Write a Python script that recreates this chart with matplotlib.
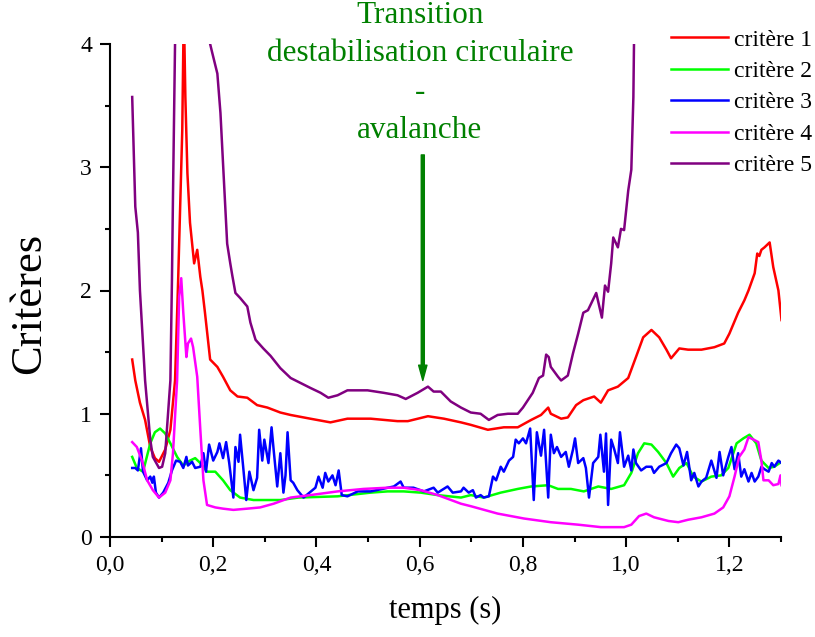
import numpy as np
import matplotlib
matplotlib.use("Agg")
import matplotlib.pyplot as plt
from matplotlib.ticker import MultipleLocator, FuncFormatter

plt.rcParams['font.family'] = ['Liberation Serif', 'DejaVu Serif']

# critère 1 (rouge)
t1 = [0.043, 0.049, 0.058, 0.068, 0.078, 0.087, 0.095, 0.107, 0.117, 0.126, 0.132, 0.140, 0.143,
      0.146, 0.150, 0.155, 0.163, 0.169, 0.175, 0.179, 0.184, 0.194, 0.208, 0.219, 0.233, 0.247,
      0.266, 0.285, 0.305, 0.330, 0.350, 0.388, 0.427, 0.460, 0.505, 0.557, 0.577, 0.616, 0.647,
      0.680, 0.699, 0.732, 0.763, 0.790, 0.816, 0.835, 0.849, 0.854, 0.874, 0.887, 0.903, 0.917,
      0.938, 0.951, 0.965, 0.984, 1.004, 1.019, 1.033, 1.049, 1.064, 1.078, 1.087, 1.103, 1.120,
      1.146, 1.171, 1.190, 1.200, 1.217, 1.229, 1.237, 1.249, 1.254, 1.258, 1.262, 1.268, 1.278,
      1.285, 1.295, 1.301]
c1 = [1.44, 1.27, 1.09, 0.95, 0.73, 0.64, 0.61, 0.71, 0.87, 1.27, 2.08, 3.30, 4.30,
      3.57, 2.95, 2.55, 2.22, 2.33, 2.11, 2.00, 1.82, 1.44, 1.38, 1.30, 1.19, 1.14,
      1.13, 1.07, 1.05, 1.01, 0.99, 0.96, 0.93, 0.96, 0.96, 0.94, 0.94, 0.98, 0.96,
      0.93, 0.91, 0.87, 0.89, 0.89, 0.95, 0.99, 1.05, 1.00, 0.96, 0.97, 1.07, 1.11,
      1.14, 1.09, 1.19, 1.22, 1.29, 1.46, 1.62, 1.68, 1.62, 1.52, 1.45, 1.53, 1.52,
      1.52, 1.54, 1.57, 1.65, 1.82, 1.92, 2.00, 2.14, 2.30, 2.28, 2.33, 2.35, 2.39,
      2.19, 2.00, 1.76]

# critère 2 (vert)
t2 = [0.043, 0.052, 0.064, 0.078, 0.087, 0.097, 0.107, 0.117, 0.130, 0.142, 0.155, 0.165, 0.175,
      0.188, 0.204, 0.219, 0.233, 0.252, 0.278, 0.305, 0.330, 0.365, 0.441, 0.505, 0.538, 0.569,
      0.602, 0.635, 0.680, 0.699, 0.724, 0.757, 0.790, 0.816, 0.849, 0.868, 0.893, 0.918, 0.946,
      0.971, 0.996, 1.010, 1.023, 1.035, 1.049, 1.062, 1.078, 1.091, 1.103, 1.117, 1.130, 1.146,
      1.165, 1.184, 1.198, 1.214, 1.227, 1.239, 1.252, 1.262, 1.276, 1.287, 1.301]
c2 = [0.65, 0.56, 0.53, 0.76, 0.85, 0.88, 0.84, 0.76, 0.65, 0.58, 0.62, 0.64, 0.60,
      0.53, 0.53, 0.46, 0.38, 0.32, 0.30, 0.30, 0.30, 0.32, 0.33, 0.36, 0.37, 0.37,
      0.36, 0.34, 0.32, 0.34, 0.32, 0.36, 0.39, 0.41, 0.42, 0.39, 0.39, 0.37, 0.41,
      0.39, 0.42, 0.52, 0.68, 0.76, 0.75, 0.69, 0.60, 0.49, 0.56, 0.60, 0.49, 0.45,
      0.49, 0.50, 0.56, 0.76, 0.80, 0.83, 0.76, 0.62, 0.56, 0.57, 0.61]

# critère 3 (bleu)
t3 = [0.043, 0.049, 0.054, 0.060, 0.064, 0.072, 0.078, 0.082, 0.085, 0.089, 0.095, 0.103, 0.113,
      0.120, 0.128, 0.136, 0.142, 0.148, 0.151, 0.159, 0.165, 0.175, 0.181, 0.186, 0.192, 0.200,
      0.208, 0.212, 0.219, 0.225, 0.231, 0.239, 0.243, 0.249, 0.252, 0.258, 0.264, 0.270, 0.278,
      0.285, 0.289, 0.295, 0.299, 0.307, 0.313, 0.317, 0.324, 0.330, 0.336, 0.340, 0.344, 0.350,
      0.355, 0.363, 0.375, 0.392, 0.398, 0.404, 0.412, 0.417, 0.423, 0.431, 0.437, 0.443, 0.449,
      0.460, 0.480, 0.505, 0.538, 0.550, 0.563, 0.569, 0.588, 0.608, 0.627, 0.635, 0.654, 0.664,
      0.680, 0.685, 0.695, 0.703, 0.709, 0.718, 0.724, 0.734, 0.742, 0.748, 0.757, 0.763, 0.773,
      0.781, 0.786, 0.792, 0.800, 0.806, 0.814, 0.821, 0.827, 0.835, 0.841, 0.849, 0.854, 0.860,
      0.866, 0.874, 0.883, 0.889, 0.897, 0.901, 0.907, 0.917, 0.922, 0.928, 0.936, 0.946, 0.950,
      0.957, 0.961, 0.965, 0.971, 0.977, 0.984, 0.988, 0.996, 1.004, 1.010, 1.014, 1.019, 1.029,
      1.039, 1.049, 1.054, 1.064, 1.078, 1.087, 1.097, 1.103, 1.111, 1.118, 1.126, 1.132, 1.140,
      1.146, 1.155, 1.165, 1.175, 1.181, 1.188, 1.198, 1.204, 1.210, 1.217, 1.223, 1.229, 1.237,
      1.243, 1.249, 1.256, 1.262, 1.268, 1.276, 1.282, 1.287, 1.295, 1.301]
c3 = [0.56, 0.56, 0.54, 0.72, 0.53, 0.46, 0.49, 0.44, 0.49, 0.36, 0.32, 0.36, 0.44,
      0.54, 0.62, 0.61, 0.56, 0.65, 0.58, 0.61, 0.56, 0.57, 0.68, 0.53, 0.75, 0.62,
      0.69, 0.76, 0.64, 0.77, 0.60, 0.32, 0.73, 0.61, 0.83, 0.57, 0.30, 0.53, 0.38,
      0.48, 0.87, 0.62, 0.79, 0.60, 0.89, 0.71, 0.41, 0.68, 0.36, 0.50, 0.85, 0.46,
      0.44, 0.38, 0.32, 0.38, 0.40, 0.49, 0.40, 0.52, 0.45, 0.50, 0.42, 0.54, 0.34,
      0.33, 0.37, 0.37, 0.40, 0.41, 0.45, 0.40, 0.40, 0.37, 0.40, 0.36, 0.41, 0.36,
      0.37, 0.40, 0.36, 0.38, 0.32, 0.34, 0.32, 0.33, 0.49, 0.46, 0.57, 0.53, 0.62,
      0.65, 0.79, 0.76, 0.80, 0.76, 0.88, 0.30, 0.85, 0.66, 0.87, 0.32, 0.83, 0.68,
      0.73, 0.65, 0.69, 0.57, 0.71, 0.80, 0.60, 0.64, 0.56, 0.32, 0.60, 0.65, 0.83,
      0.53, 0.84, 0.26, 0.79, 0.71, 0.60, 0.85, 0.57, 0.66, 0.54, 0.71, 0.60, 0.54,
      0.57, 0.57, 0.52, 0.57, 0.60, 0.68, 0.75, 0.72, 0.58, 0.69, 0.46, 0.52, 0.41,
      0.45, 0.48, 0.62, 0.48, 0.69, 0.50, 0.65, 0.73, 0.55, 0.68, 0.49, 0.55, 0.45,
      0.52, 0.45, 0.49, 0.57, 0.55, 0.53, 0.60, 0.57, 0.62, 0.60]

# critère 4 (magenta)
t4 = [0.043, 0.052, 0.062, 0.072, 0.083, 0.095, 0.107, 0.117, 0.122, 0.130, 0.134, 0.138, 0.142,
      0.148, 0.151, 0.157, 0.161, 0.169, 0.175, 0.181, 0.188, 0.204, 0.219, 0.239, 0.266, 0.291,
      0.317, 0.350, 0.388, 0.441, 0.491, 0.538, 0.569, 0.602, 0.635, 0.680, 0.699, 0.751, 0.802,
      0.854, 0.907, 0.951, 0.996, 1.010, 1.025, 1.039, 1.054, 1.082, 1.101, 1.120, 1.146, 1.171,
      1.188, 1.200, 1.210, 1.219, 1.229, 1.237, 1.247, 1.256, 1.262, 1.266, 1.276, 1.285, 1.295,
      1.299, 1.301]
c4 = [0.77, 0.73, 0.62, 0.46, 0.38, 0.32, 0.36, 0.46, 0.68, 1.27, 1.95, 2.10, 1.82,
      1.46, 1.57, 1.61, 1.54, 1.30, 0.87, 0.46, 0.26, 0.24, 0.23, 0.22, 0.23, 0.24,
      0.27, 0.32, 0.34, 0.37, 0.39, 0.40, 0.40, 0.38, 0.34, 0.27, 0.25, 0.19, 0.15,
      0.12, 0.10, 0.08, 0.08, 0.10, 0.17, 0.19, 0.16, 0.13, 0.12, 0.14, 0.16, 0.19,
      0.24, 0.33, 0.49, 0.65, 0.71, 0.81, 0.79, 0.77, 0.62, 0.46, 0.46, 0.42, 0.43,
      0.50, 0.42]

# critère 5 (violet)
t5 = [0.043, 0.049, 0.054, 0.058, 0.068, 0.078, 0.083, 0.095, 0.101, 0.107, 0.117, 0.120, 0.122,
      0.126, 0.160, 0.194, 0.198, 0.208, 0.214, 0.219, 0.227, 0.233, 0.237, 0.243, 0.252, 0.266,
      0.272, 0.282, 0.297, 0.311, 0.330, 0.350, 0.369, 0.388, 0.408, 0.423, 0.441, 0.460, 0.499,
      0.530, 0.557, 0.573, 0.596, 0.616, 0.627, 0.641, 0.660, 0.680, 0.699, 0.718, 0.734, 0.751,
      0.771, 0.790, 0.800, 0.819, 0.831, 0.839, 0.845, 0.850, 0.854, 0.868, 0.874, 0.887, 0.897,
      0.907, 0.917, 0.926, 0.942, 0.953, 0.959, 0.965, 0.971, 0.975, 0.984, 0.990, 0.996, 1.004,
      1.010, 1.014, 1.016]
c5 = [3.57, 2.68, 2.47, 2.00, 1.27, 0.79, 0.65, 0.56, 0.57, 0.68, 1.27, 2.08, 2.76,
      4.00, 6.00, 4.00, 3.93, 3.76, 3.44, 3.03, 2.38, 2.22, 2.12, 1.98, 1.94, 1.87,
      1.74, 1.60, 1.53, 1.47, 1.37, 1.29, 1.25, 1.21, 1.17, 1.13, 1.15, 1.19, 1.19,
      1.17, 1.15, 1.12, 1.17, 1.22, 1.18, 1.18, 1.10, 1.05, 1.01, 1.00, 0.95, 0.99,
      1.00, 1.00, 1.05, 1.17, 1.29, 1.31, 1.48, 1.46, 1.38, 1.30, 1.27, 1.31, 1.49,
      1.65, 1.82, 1.84, 1.98, 1.78, 2.04, 1.99, 2.22, 2.43, 2.35, 2.50, 2.49, 2.81,
      2.98, 3.57, 4.30]

labels = ["critère 1", "critère 2", "critère 3", "critère 4", "critère 5"]
colors = ["#ff0000", "#00ff00", "#0000ff", "#ff00ff", "#800080"]

fig = plt.figure(figsize=(8.15, 6.37), dpi=100)
ax = fig.add_axes([110/815, 100/637, 671/815, 493/637])

for t, c, lab, col in zip([t1, t2, t3, t4, t5], [c1, c2, c3, c4, c5], labels, colors):
    ax.plot(t, c, color=col, lw=1.8, label=lab)

ax.set_xlim(0, 1.3)
ax.set_ylim(0, 4)
ax.spines['top'].set_visible(False)
ax.spines['right'].set_visible(False)
for s in ['left', 'bottom']:
    ax.spines[s].set_linewidth(1.5)

ax.xaxis.set_major_locator(MultipleLocator(0.2))
ax.xaxis.set_minor_locator(MultipleLocator(0.1))
ax.yaxis.set_major_locator(MultipleLocator(1))
ax.yaxis.set_minor_locator(MultipleLocator(0.5))
ax.xaxis.set_major_formatter(FuncFormatter(lambda v, p: f"{v:.1f}".replace(".", ",")))
ax.yaxis.set_major_formatter(FuncFormatter(lambda v, p: f"{v:.0f}"))
ax.tick_params(which='major', direction='out', length=7, width=1.5, labelsize=17, pad=6,
               labelfontfamily='Liberation Serif')
ax.tick_params(which='minor', direction='out', length=3.6, width=1.5)

ax.set_xlabel("temps (s)", fontsize=22, labelpad=14)
ax.set_ylabel("Critères", fontsize=32)
ax.yaxis.set_label_coords(-0.091, 0.473)

ax.legend(loc='upper left', bbox_to_anchor=(671/815, 1 - 29/637), bbox_transform=fig.transFigure,
          frameon=False, fontsize=17, handlelength=2.4, handletextpad=0.25, labelspacing=0.42,
          borderpad=0, borderaxespad=0)

# annotation
fig.text(420/815, 1 - 73/637, "Transition\ndestabilisation circulaire\n-\navalanche",
         ha='center', va='center', color='#008000', fontsize=22.5, linespacing=1.42)
ax.annotate("", xy=(0.606, 1.27), xytext=(0.606, 3.10),
            arrowprops=dict(facecolor='#008000', edgecolor='#008000', width=2.2,
                            headwidth=6, headlength=11, shrink=0))

fig.savefig("out.png", dpi=100)
